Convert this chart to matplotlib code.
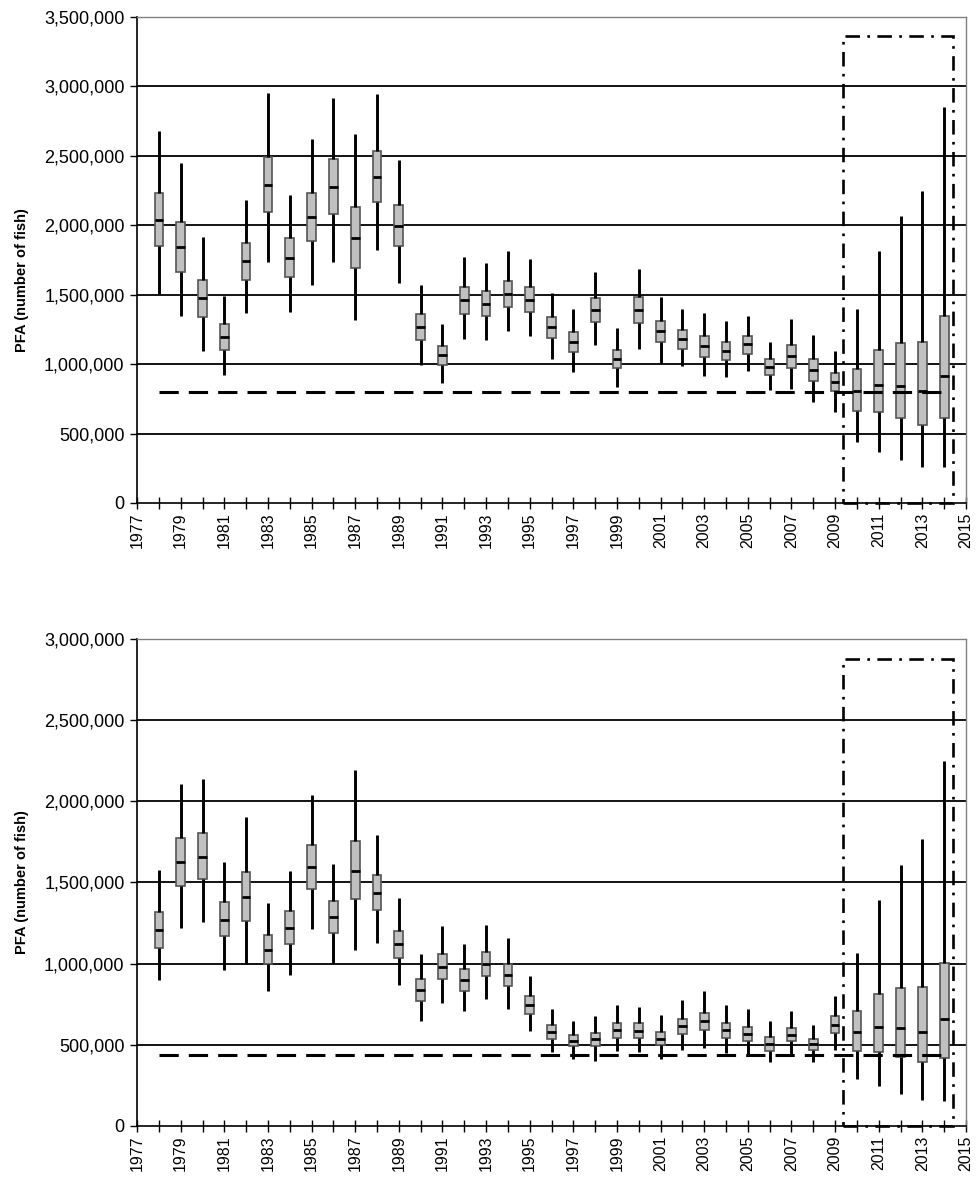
import matplotlib
matplotlib.use("Agg")
import matplotlib.pyplot as plt
from matplotlib.patches import Rectangle
from matplotlib.ticker import FuncFormatter, MultipleLocator
import numpy as np

plt.rcParams['font.family'] = ['Liberation Sans', 'DejaVu Sans']

years = list(range(1978, 2015))

# PFA estimates, thousands of fish: whisker low, 25th pct, median, 75th pct, whisker high
top_low = [1508, 1344, 1092, 924, 1368, 1734, 1378, 1573, 1734, 1316, 1821, 1585, 996,
           861, 1183, 1176, 1236, 1200, 1037, 945, 1140, 835, 1111, 1010, 986, 911,
           907, 952, 815, 820, 726, 654, 438, 370, 310, 258, 258]
top_q1 = [1854, 1664, 1340, 1099, 1609, 2095, 1628, 1885, 2083, 1693, 2167, 1854, 1176,
          996, 1364, 1347, 1412, 1373, 1188, 1087, 1304, 972, 1297, 1159, 1111, 1053,
          1032, 1075, 924, 972, 875, 803, 663, 654, 611, 563, 615]
top_med = [2037, 1845, 1474, 1193, 1741, 2289, 1765, 2059, 2275, 1905, 2345, 1994, 1265,
           1066, 1465, 1436, 1508, 1465, 1265, 1159, 1388, 1039, 1388, 1236, 1181, 1128,
           1097, 1145, 979, 1056, 955, 871, 803, 851, 839, 803, 911]
top_q3 = [2234, 2025, 1609, 1289, 1876, 2494, 1905, 2232, 2475, 2133, 2532, 2143, 1361,
          1133, 1556, 1525, 1602, 1553, 1340, 1231, 1474, 1104, 1481, 1311, 1246, 1200,
          1162, 1205, 1037, 1140, 1037, 936, 967, 1099, 1152, 1157, 1349]
top_high = [2679, 2451, 1917, 1494, 2179, 2956, 2217, 2624, 2915, 2655, 2946, 2470, 1573,
            1289, 1770, 1727, 1813, 1758, 1510, 1397, 1664, 1260, 1686, 1481, 1400, 1368,
            1313, 1349, 1162, 1328, 1207, 1092, 1397, 1813, 2066, 2244, 2852]

bot_low = [898, 1218, 1259, 964, 999, 834, 929, 1215, 1007, 1083, 1129, 871, 644,
           760, 711, 782, 723, 587, 453, 414, 401, 459, 455, 411, 469, 479,
           448, 438, 397, 438, 397, 469, 292, 245, 198, 159, 153]
bot_q1 = [1098, 1479, 1521, 1168, 1263, 997, 1119, 1461, 1190, 1399, 1333, 1032, 772,
          906, 834, 923, 861, 692, 537, 490, 490, 544, 541, 496, 566, 589,
          541, 521, 465, 521, 469, 572, 465, 455, 427, 392, 418]
bot_med = [1207, 1626, 1660, 1271, 1411, 1082, 1221, 1595, 1289, 1572, 1438, 1119, 838,
           980, 900, 995, 929, 748, 578, 525, 533, 589, 587, 537, 613, 644,
           589, 566, 506, 562, 504, 624, 576, 612, 606, 582, 657]
bot_q3 = [1320, 1774, 1807, 1378, 1562, 1174, 1327, 1731, 1387, 1756, 1545, 1203, 908,
          1057, 970, 1071, 995, 799, 624, 562, 575, 634, 632, 578, 661, 696,
          634, 609, 547, 603, 537, 680, 711, 813, 847, 855, 1005]
bot_high = [1578, 2108, 2135, 1628, 1906, 1376, 1570, 2040, 1611, 2190, 1795, 1403, 1061,
            1232, 1119, 1238, 1160, 923, 723, 649, 680, 743, 735, 681, 774, 830,
            748, 721, 644, 706, 624, 803, 1067, 1391, 1607, 1766, 2246]

# reference level and projection window (thousands of fish)
top_ref = 800
bot_ref = 435
proj_start, proj_end = 2009.35, 2014.4
top_box_height = 3360
bot_box_height = 2875


def draw_panel(ax, low, q1, med, q3, high, ref, box_h, ymax):
    stats = []
    for lo, a, m, b, hi in zip(low, q1, med, q3, high):
        stats.append({'whislo': lo * 1000, 'q1': a * 1000, 'med': m * 1000,
                      'q3': b * 1000, 'whishi': hi * 1000})
    ax.bxp(stats, positions=years, widths=0.4, showcaps=False, showfliers=False,
           patch_artist=True, manage_ticks=False,
           boxprops=dict(facecolor='#c0c0c0', edgecolor='#555555', linewidth=1.2),
           medianprops=dict(color='black', linewidth=2.0),
           whiskerprops=dict(color='black', linewidth=2.1, solid_capstyle='butt'),
           zorder=3)

    # horizontal gridlines every 500,000
    for g in np.arange(500000, ymax, 500000):
        ax.axhline(g, color='black', linewidth=1.3, zorder=1)

    ax.hlines(ref * 1000, years[0], years[-1], colors='black', linewidth=2.2,
              linestyles=(0, (6.3, 3.3)), zorder=4)

    # projection years outlined with a dash-dot frame
    ax.add_patch(Rectangle((proj_start, 0), proj_end - proj_start, box_h * 1000,
                           fill=False, edgecolor='black', linewidth=1.9,
                           linestyle=(0, (5.5, 2.8, 1, 2.8)), zorder=5, clip_on=False))

    ax.set_xlim(1977, 2015)
    ax.set_ylim(0, ymax)
    ax.xaxis.set_minor_locator(MultipleLocator(1))
    ax.set_xticks(range(1977, 2016, 2))
    ax.set_xticklabels([str(y) for y in range(1977, 2016, 2)], rotation=90)
    ax.yaxis.set_major_locator(MultipleLocator(500000))
    ax.yaxis.set_major_formatter(FuncFormatter(lambda v, p: f'{int(v):,}'))
    ax.tick_params(axis='x', which='both', direction='inout', length=8, width=1,
                   labelsize=11.5, pad=3)
    ax.tick_params(axis='y', direction='out', length=5, width=1, labelsize=13, pad=4)
    for side in ['left', 'bottom']:
        ax.spines[side].set_color('black')
        ax.spines[side].set_linewidth(1.2)
    for side in ['top', 'right']:
        ax.spines[side].set_color('#808080')
        ax.spines[side].set_linewidth(1.0)


fig = plt.figure(figsize=(9.79, 11.84), dpi=100)
ax1 = fig.add_axes([0.140, 0.5752, 0.8467, 0.4104])
ax2 = fig.add_axes([0.140, 0.0490, 0.8467, 0.4113])

draw_panel(ax1, top_low, top_q1, top_med, top_q3, top_high, top_ref, top_box_height, 3500000)
draw_panel(ax2, bot_low, bot_q1, bot_med, bot_q3, bot_high, bot_ref, bot_box_height, 3000000)

fig.text(22 / 979, 1 - 280 / 1184, 'PFA (number of fish)', rotation=90, ha='center',
         va='center', fontsize=10.5, fontweight='bold')
fig.text(22 / 979, 1 - 882 / 1184, 'PFA (number of fish)', rotation=90, ha='center',
         va='center', fontsize=10.5, fontweight='bold')

fig.savefig('out.png', dpi=100)
